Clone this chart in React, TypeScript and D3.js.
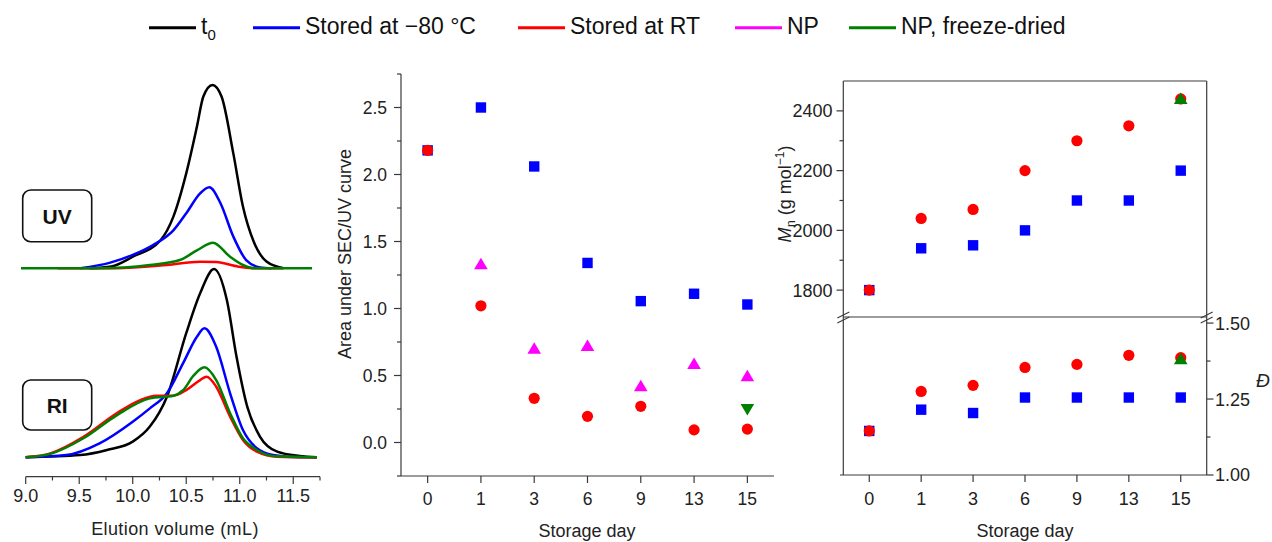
import React from "react";
import * as d3 from "d3";

// ---------- data ----------
const DAYS = ["0", "1", "3", "6", "9", "13", "15"];

const AREA_M80 = [2.18, 2.5, 2.06, 1.34, 1.055, 1.11, 1.03];
const AREA_RT = [2.18, 1.02, 0.33, 0.195, 0.27, 0.094, 0.1];
const AREA_NP = [null, 1.33, 0.7, 0.72, 0.42, 0.585, 0.495];
const AREA_NPFD = [null, null, null, null, null, null, 0.25];

const MN_M80 = [1800, 1940, 1950, 2000, 2100, 2100, 2200];
const MN_RT = [1800, 2040, 2070, 2200, 2300, 2350, 2440];
const MN_NPFD = [null, null, null, null, null, null, 2440];

const DISP_M80 = [1.145, 1.215, 1.204, 1.255, 1.255, 1.255, 1.255];
const DISP_RT = [1.145, 1.275, 1.295, 1.354, 1.364, 1.394, 1.386];
const DISP_NPFD = [null, null, null, null, null, null, 1.381];

// chromatograms: [elution volume (mL), normalized intensity]
const UV_T0: [number, number][] = [
  [9.6, 0], [9.8, 0.01], [10.0, 0.063], [10.26, 0.153], [10.38, 0.282], [10.5, 0.518],
  [10.6, 0.773], [10.66, 0.937], [10.745, 1.0], [10.83, 0.937], [10.94, 0.627],
  [11.03, 0.337], [11.13, 0.146], [11.25, 0.037], [11.41, 0.0],
];
const UV_M80: [number, number][] = [
  [9.51, 0], [9.79, 0.031], [10.0, 0.073], [10.19, 0.127], [10.38, 0.207], [10.5, 0.3],
  [10.63, 0.409], [10.716, 0.442], [10.82, 0.355], [10.94, 0.173], [11.06, 0.045],
  [11.19, 0.005], [11.3, 0],
];
const UV_RT: [number, number][] = [
  [9.3, 0], [9.85, 0.0], [10.32, 0.018], [10.63, 0.036], [10.78, 0.034], [10.99, 0.009],
  [11.15, 0], [11.4, 0],
];
const UV_NPFD: [number, number][] = [
  [8.956, 0], [9.69, 0], [10.16, 0.018], [10.44, 0.045], [10.6, 0.098], [10.75, 0.14],
  [10.91, 0.063], [11.03, 0.018], [11.15, 0], [11.675, 0],
];
const RI_T0: [number, number][] = [
  [9.0, 0], [9.51, 0.012], [9.76, 0.039], [10.0, 0.083], [10.16, 0.163], [10.32, 0.322],
  [10.5, 0.659], [10.63, 0.871], [10.76, 1.0], [10.88, 0.834], [10.97, 0.534],
  [11.07, 0.269], [11.19, 0.109], [11.35, 0.03], [11.56, 0.007], [11.72, 0],
];
const RI_M80: [number, number][] = [
  [9.0, 0], [9.38, 0.012], [9.69, 0.074], [10.0, 0.189], [10.16, 0.26], [10.32, 0.34],
  [10.47, 0.499], [10.6, 0.64], [10.67, 0.685], [10.78, 0.587], [10.91, 0.34],
  [11.03, 0.145], [11.16, 0.048], [11.31, 0.012], [11.56, 0], [11.72, 0],
];
const RI_RT: [number, number][] = [
  [9.0, 0], [9.23, 0.021], [9.54, 0.109], [9.85, 0.234], [10.07, 0.304], [10.22, 0.327],
  [10.38, 0.327], [10.5, 0.357], [10.63, 0.41], [10.69, 0.428], [10.78, 0.375],
  [10.91, 0.216], [11.03, 0.092], [11.16, 0.03], [11.35, 0.003], [11.72, 0],
];
const RI_NPFD: [number, number][] = [
  [9.0, 0], [9.23, 0.018], [9.54, 0.101], [9.85, 0.223], [10.16, 0.313], [10.38, 0.327],
  [10.47, 0.356], [10.57, 0.435], [10.67, 0.478], [10.78, 0.41], [10.91, 0.234],
  [11.03, 0.101], [11.16, 0.039], [11.35, 0.005], [11.72, 0],
];

const ELUTION_MAJOR = [9.0, 9.5, 10.0, 10.5, 11.0, 11.5];
const ELUTION_MINOR = [9.25, 9.75, 10.25, 10.75, 11.25, 11.75];
const AREA_MAJOR = [0, 0.5, 1.0, 1.5, 2.0, 2.5];
const AREA_MINOR = [-0.25, 0.25, 0.75, 1.25, 1.75, 2.25, 2.75];
const MN_MAJOR = [1800, 2000, 2200, 2400];
const MN_MINOR = [1900, 2100, 2300];
const DISP_MAJOR = [1.0, 1.25, 1.5];
const DISP_MINOR = [1.125, 1.375];

const SERIES = ["t0", "Stored at \u221280 \u00b0C", "Stored at RT", "NP", "NP, freeze-dried"];
const COLORS = ["#000000", "#0000ff", "#ff0000", "#ff00ff", "#008000"];

// ---------- layout ----------
const W = 1272;
const H = 542;
const FONT = "'Liberation Sans', Arial, Helvetica, sans-serif";
const AX = "#3a3a3a";
const LEGEND_X = [149, 253, 518, 735, 849];

// left panel scales
const xEl = d3.scaleLinear().domain([9.0, 11.75]).range([25.7, 320]);
const yUV = d3.scaleLinear().domain([0, 1]).range([268.3, 85]);
const yRI = d3.scaleLinear().domain([0, 1]).range([457.3, 269]);

// middle panel scales
const xMid = d3.scaleLinear().domain([-0.5, 6.5]).range([401, 774]);
const yMid = d3.scaleLinear().domain([-0.25, 2.75]).range([476, 74]);

// right panel scales
const xR = d3.scaleLinear().domain([-0.5, 6.5]).range([843.3, 1206.7]);
const yMn = d3.scaleLinear().domain([1710, 2500]).range([317, 81]);
const yD = d3.scaleLinear().domain([1.0, 1.52]).range([475, 317]);

function Square({ x, y, c }: { x: number; y: number; c: string }) {
  return <rect x={x - 5.2} y={y - 5.2} width={10.4} height={10.4} fill={c} />;
}
function Circle({ x, y, c }: { x: number; y: number; c: string }) {
  return <circle cx={x} cy={y} r={5.6} fill={c} />;
}
function TriUp({ x, y, c }: { x: number; y: number; c: string }) {
  return <path d={`M${x},${y - 6.5}L${x + 6.8},${y + 5}L${x - 6.8},${y + 5}Z`} fill={c} />;
}
function TriDown({ x, y, c }: { x: number; y: number; c: string }) {
  return <path d={`M${x},${y + 6.5}L${x + 6.8},${y - 5}L${x - 6.8},${y - 5}Z`} fill={c} />;
}

type Marker = typeof Square;
function Points({ vals, xs, ys, M, c }: { vals: (number | null)[]; xs: any; ys: any; M: Marker; c: string }) {
  return (
    <g>
      {vals.map((v, i) => (v == null ? null : <M key={i} x={xs(i)} y={ys(v)} c={c} />))}
    </g>
  );
}

export default function App() {
  const lineUV = d3
    .line<[number, number]>()
    .x((d) => xEl(d[0]))
    .y((d) => yUV(d[1]))
    .curve(d3.curveMonotoneX);
  const lineRI = d3
    .line<[number, number]>()
    .x((d) => xEl(d[0]))
    .y((d) => yRI(d[1]))
    .curve(d3.curveMonotoneX);

  const uvSeries = [UV_T0, UV_M80, UV_RT, UV_NPFD];
  const riSeries = [RI_T0, RI_M80, RI_RT, RI_NPFD];
  const curveColors = [COLORS[0], COLORS[1], COLORS[2], COLORS[4]];

  const tickFont = 18;

  return (
    <svg
      width={W}
      height={H}
      style={{ position: "absolute", left: 0, top: 0, display: "block", background: "#fff" }}
      fontFamily={FONT}
    >
      <rect x={0} y={0} width={W} height={H} fill="#fff" />

      {/* legend */}
      <g>
        {SERIES.map((s, i) => {
          const x0 = LEGEND_X[i];
          return (
            <g key={s}>
              <line x1={x0} x2={x0 + 47} y1={27.7} y2={27.7} stroke={COLORS[i]} strokeWidth={3} />
              <text x={x0 + 52} y={34.3} fontSize={23} fill="#111">
                {i === 0 ? (
                  <>
                    t<tspan fontSize={15} dy={6}>0</tspan>
                  </>
                ) : (
                  s
                )}
              </text>
            </g>
          );
        })}
      </g>

      {/* ---------- left panel ---------- */}
      <g>
        {uvSeries.map((d, i) => (
          <path key={i} d={lineUV(d) || ""} fill="none" stroke={curveColors[i]} strokeWidth={2.5} strokeLinejoin="round" />
        ))}
        {riSeries.map((d, i) => (
          <path key={i} d={lineRI(d) || ""} fill="none" stroke={curveColors[i]} strokeWidth={2.5} strokeLinejoin="round" />
        ))}
        <rect x={22.7} y={190} width={69} height={51.7} rx={8} fill="#fff" stroke="#111" strokeWidth={1.6} />
        <text x={57.2} y={223.5} textAnchor="middle" fontSize={21} fontWeight="bold" fill="#111">UV</text>
        <rect x={22.7} y={380} width={69} height={50} rx={8} fill="#fff" stroke="#111" strokeWidth={1.6} />
        <text x={57.2} y={412.5} textAnchor="middle" fontSize={21} fontWeight="bold" fill="#111">RI</text>

        <line x1={xEl(9.0)} x2={xEl(11.75)} y1={476.7} y2={476.7} stroke={AX} strokeWidth={1.2} />
        {ELUTION_MAJOR.map((v) => (
          <g key={v}>
            <line x1={xEl(v)} x2={xEl(v)} y1={476.7} y2={484} stroke={AX} strokeWidth={1.2} />
            <text x={xEl(v)} y={501.5} textAnchor="middle" fontSize={tickFont} fill="#222">
              {v.toFixed(1)}
            </text>
          </g>
        ))}
        {ELUTION_MINOR.map((v) => (
          <line key={v} x1={xEl(v)} x2={xEl(v)} y1={476.7} y2={480.5} stroke={AX} strokeWidth={1.2} />
        ))}
        <text x={175} y={535} textAnchor="middle" fontSize={18} letterSpacing={0.4} fill="#222">Elution volume (mL)</text>
      </g>

      {/* ---------- middle panel ---------- */}
      <g>
        <line x1={401} x2={401} y1={yMid(2.75)} y2={yMid(-0.25)} stroke={AX} strokeWidth={1.2} />
        <line x1={401} x2={xMid(6.5)} y1={476} y2={476} stroke={AX} strokeWidth={1.2} />
        {AREA_MAJOR.map((v) => (
          <g key={v}>
            <line x1={394} x2={401} y1={yMid(v)} y2={yMid(v)} stroke={AX} strokeWidth={1.2} />
            <text x={387} y={yMid(v)} dy="0.36em" textAnchor="end" fontSize={17.5} fill="#222">
              {v.toFixed(1)}
            </text>
          </g>
        ))}
        {AREA_MINOR.map((v) => (
          <line key={v} x1={397} x2={401} y1={yMid(v)} y2={yMid(v)} stroke={AX} strokeWidth={1.2} />
        ))}
        {DAYS.map((d, i) => (
          <g key={d}>
            <line x1={xMid(i)} x2={xMid(i)} y1={476} y2={483} stroke={AX} strokeWidth={1.2} />
            <text x={xMid(i)} y={504.5} textAnchor="middle" fontSize={17.5} fill="#222">{d}</text>
          </g>
        ))}
        <text x={587} y={537} textAnchor="middle" fontSize={18} fill="#222">Storage day</text>
        <text transform="translate(351,254) rotate(-90)" textAnchor="middle" fontSize={18} fill="#222">
          Area under SEC/UV curve
        </text>

        <Points vals={AREA_M80} xs={xMid} ys={yMid} M={Square} c={COLORS[1]} />
        <Points vals={AREA_RT} xs={xMid} ys={yMid} M={Circle} c={COLORS[2]} />
        <Points vals={AREA_NP} xs={xMid} ys={yMid} M={TriUp} c={COLORS[3]} />
        <Points vals={AREA_NPFD} xs={xMid} ys={yMid} M={TriDown} c={COLORS[4]} />
      </g>

      {/* ---------- right panel ---------- */}
      <g>
        {/* frame */}
        <line x1={843.3} x2={1206.7} y1={81} y2={81} stroke={AX} strokeWidth={1.2} />
        <line x1={843.3} x2={843.3} y1={81} y2={475} stroke={AX} strokeWidth={1.2} />
        <line x1={1206.7} x2={1206.7} y1={81} y2={475} stroke={AX} strokeWidth={1.2} />
        <line x1={843.3} x2={1206.7} y1={317} y2={317} stroke={AX} strokeWidth={1.2} />
        <line x1={840} x2={1206.7} y1={475} y2={475} stroke={AX} strokeWidth={1.2} />
        {/* break marks */}
        {[843.3, 1206.7].map((bx) => (
          <g key={bx}>
            <line x1={bx - 6} x2={bx + 6} y1={318} y2={312} stroke={AX} strokeWidth={1.1} />
            <line x1={bx - 6} x2={bx + 6} y1={323} y2={317} stroke={AX} strokeWidth={1.1} />
          </g>
        ))}
        {MN_MAJOR.map((v) => (
          <g key={v}>
            <line x1={836.5} x2={843.3} y1={yMn(v)} y2={yMn(v)} stroke={AX} strokeWidth={1.2} />
            <text x={832.5} y={yMn(v)} dy="0.36em" textAnchor="end" fontSize={tickFont} fill="#222">{v}</text>
          </g>
        ))}
        {MN_MINOR.map((v) => (
          <line key={v} x1={839.5} x2={843.3} y1={yMn(v)} y2={yMn(v)} stroke={AX} strokeWidth={1.2} />
        ))}
        {DISP_MAJOR.map((v) => (
          <g key={v}>
            <line x1={1206.7} x2={1213.5} y1={yD(v)} y2={yD(v)} stroke={AX} strokeWidth={1.2} />
            <text x={1215} y={yD(v)} dy="0.36em" textAnchor="start" fontSize={tickFont} fill="#222">{v.toFixed(2)}</text>
          </g>
        ))}
        {DISP_MINOR.map((v) => (
          <line key={v} x1={1206.7} x2={1210.5} y1={yD(v)} y2={yD(v)} stroke={AX} strokeWidth={1.2} />
        ))}
        {DAYS.map((d, i) => (
          <g key={d}>
            <line x1={xR(i)} x2={xR(i)} y1={475} y2={482} stroke={AX} strokeWidth={1.2} />
            <text x={xR(i)} y={504.5} textAnchor="middle" fontSize={tickFont} fill="#222">{d}</text>
          </g>
        ))}
        <text x={1025} y={537} textAnchor="middle" fontSize={18} fill="#222">Storage day</text>
        <text transform="translate(791,194) rotate(-90)" textAnchor="middle" fontSize={18} fill="#222">
          <tspan fontStyle="italic">M</tspan>
          <tspan fontSize={12} dy={4} dx={0.5}>n</tspan>
          <tspan dy={-4}>{"\u00a0(g mol"}</tspan>
          <tspan fontSize={12} dy={-7}>{"\u22121"}</tspan>
          <tspan dy={7}>)</tspan>
        </text>
        <text x={1256} y={387} fontSize={19} fontStyle="italic" fill="#222">{"\u0110"}</text>

        <Points vals={MN_M80} xs={xR} ys={yMn} M={Square} c={COLORS[1]} />
        <Points vals={MN_RT} xs={xR} ys={yMn} M={Circle} c={COLORS[2]} />
        <Points vals={MN_NPFD} xs={xR} ys={yMn} M={TriUp} c={COLORS[4]} />
        <Points vals={DISP_M80} xs={xR} ys={yD} M={Square} c={COLORS[1]} />
        <Points vals={DISP_RT} xs={xR} ys={yD} M={Circle} c={COLORS[2]} />
        <Points vals={DISP_NPFD} xs={xR} ys={yD} M={TriUp} c={COLORS[4]} />
      </g>
    </svg>
  );
}
